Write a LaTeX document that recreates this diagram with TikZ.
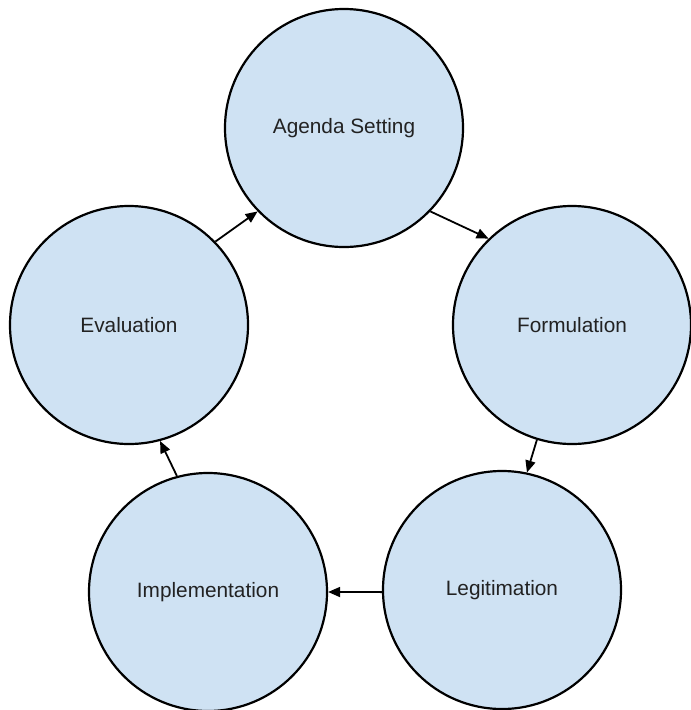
\documentclass[tikz,border=0pt]{standalone}
\usepackage{fontspec}
\setmainfont{Liberation Sans}
\usetikzlibrary{arrows.meta}
\definecolor{stageblue}{HTML}{CFE2F3}
\definecolor{stagetext}{HTML}{222222}

\begin{document}
\begin{tikzpicture}[x=1pt, y=-1pt,
    every node/.style={circle, draw=black, line width=2.2pt, fill=stageblue,
      minimum size=238pt, inner sep=0pt, text=stagetext,
      font=\fontsize{20.8}{24}\selectfont},
    link/.style={line width=1.8pt, -{Triangle[length=12pt, width=10pt]}}]
    \useasboundingbox (0,0) rectangle (691,710);

    \node (agenda) at (344,128) {Agenda Setting};
    \node (formul) at (572,325) {Formulation};
    \node (legit) at (502,590) {Legitimation};
    \node (impl) at (208,592) {Implementation};
    \node (eval) at (129,325) {Evaluation};

    \draw[link] (eval.44) -- (agenda.224);
    \draw[link] (agenda.-44) -- (formul.134);
    \draw[link] (formul.-107) -- (legit.78);
    \draw[link] (legit.181) -- (impl.0);
    \draw[link] (impl.105) -- (eval.-75);
  \end{tikzpicture}
\end{document}
